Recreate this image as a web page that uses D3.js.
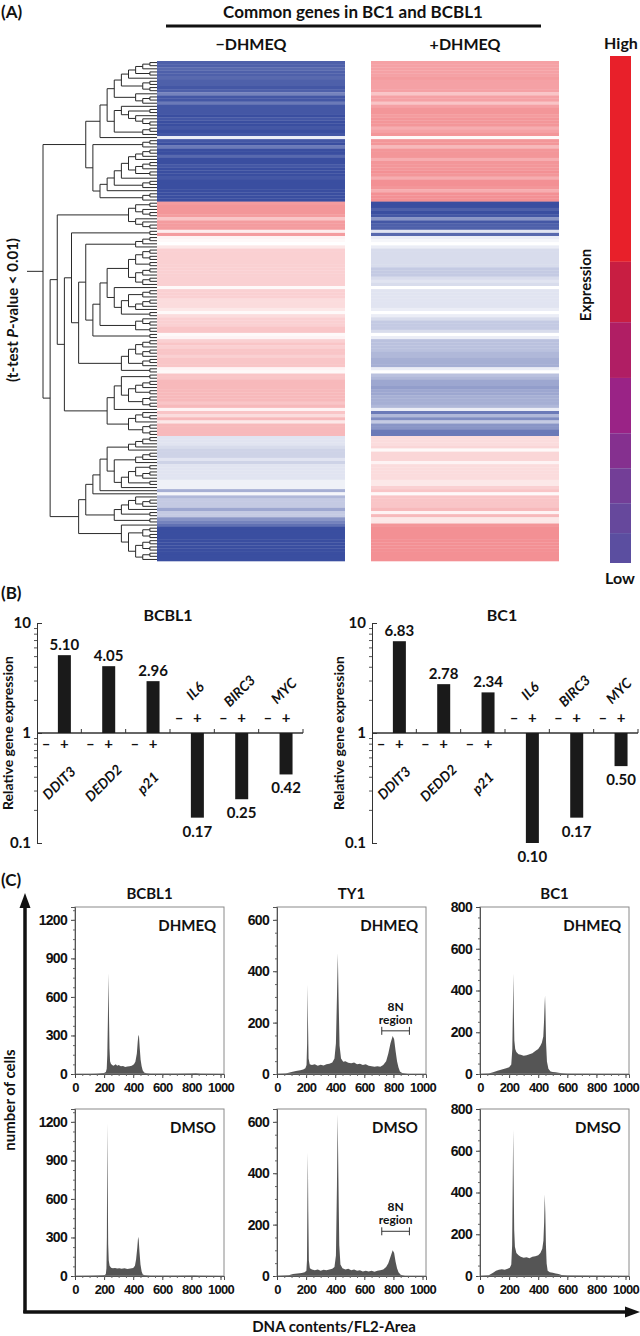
<!DOCTYPE html>
<html><head><meta charset="utf-8">
<script src="https://cdn.jsdelivr.net/npm/d3@7"></script>
<style>
body{margin:0;background:#fff}
svg{display:block}
text{font-family:Lato,"Open Sans",sans-serif;font-weight:bold;fill:#111}
.num text{font-family:"Liberation Sans Narrow","Liberation Sans",Arial,sans-serif;font-weight:bold;letter-spacing:-0.7px}
</style></head><body>
<svg id="fig" width="640" height="1336"></svg>
<script>
// ---------------- DATA ----------------
const heatmapColumns = ["−DHMEQ", "+DHMEQ"];
const minusDHMEQ = [
-9,-9,-8.5,-9,-9,-8.5,-9,-9,-9.5,-9,
-7,-9.5,-9.5,-7.5,-9.5,-9.5,-9.5,-10,-9.5,-10,
-10,-9.5,-10,-9.5,-1,-9.5,-10,-7.5,-10,-10,
-8.5,-10,-10,-9.5,-10,-10,-10,-9.5,-10,-10,
-10,-10,-10,-10,-10,
8.5,9,9,9,8.5,5,8.5,8.5,8.5,1.5,8.5,
1,0.5,0,2,4,4,4,4,4,4,4,4,4,4,4,4,0.5,4,4,4,
3,3,3,2,0.5,3,4,4,4,5,5,0.5,1,4,5,4,5,5,4,5,5,5,1,0.5,5,5,6,6,6,6,6,6,6,5,6,1,5,3,6,2,6,6,6,6,
-1.5,-1.5,-1.5,-2,-2.5,-2.5,-2.5,-1.5,-2.5,-1.5,-1.5,-1.5,-1.5,-1.5,-0.8,-0.8,-0.8,-4.5,-0.5,-4,-3,-3,-3,-5,-3,-3,-6,-7,
-8,-10,-10,-10,-10,-10,-10,-10,-10,-10,-10,-10
];
const plusDHMEQ = [
8,8,8,8,8,8.5,8,8,8,8,
5,8,8,5,8,9,9,8.5,9,9,
9,7,8,9,0.5,9,9,6,9,9,
9,7,9,9,9,9.5,9,7,9.5,9.5,
9,7,9.5,9.5,9.5,
-10,-10,-9,-10,-9.5,-6,-9.5,-9,-9,-1.5,-8.5,
-1,-0.5,0,-1,-2,-2,-2,-2,-2,-2,-3,-3,-3,-2,-1.5,-2,0,-1.5,-1.5,-1.5,
-1.5,-1.5,-1.5,-1,0,-1,-2,-3,-3,-3,-2,0,-1,-3.5,-3.5,-3.5,-3.5,-4,-4,-4.5,-4.5,-4.5,-1,0,-3.5,-4,-5,-5,-5.5,-5,-5,-4.5,-4.5,-4.5,-4,-1,-7.5,-4,-6.5,-3,-6,-6,-7.5,-7.5,
3,3,3,3.5,0.5,3.5,3.5,3.5,1,3,3,3,3,3,2,2,4,5,0.5,5,5,5,5,6,1,6,2,2,
9,9.5,9.5,9.5,9.5,9.5,9.5,9.5,9.5,9.5,9.5,9.5
];
const legendColors = ["#e8202a","#c81e42","#b01e64","#9a2386","#85308f","#733e97","#66489c","#5b4ea0"];
const legendBreaks = [1, 0.594, 0.475, 0.365, 0.256, 0.187, 0.118, 0.059, 0];

const genes = ["DDIT3","DEDD2","p21","IL6","BIRC3","MYC"];
const bcbl1Expr = [5.10, 4.05, 2.96, 0.17, 0.25, 0.42];
const bc1Expr = [6.83, 2.78, 2.34, 0.10, 0.17, 0.50];
const exprTicks = [0.1, 1, 10];

const fcmCells = ["BCBL1","TY1","BC1"];
const fcmTreatments = ["DHMEQ","DMSO"];
const fcmYMax = [1300, 650, 800];
const fcmYTicks = [[0,300,600,900,1200],[0,200,400,600],[0,200,400,600,800]];
const fcmXTicks = [0,200,400,600,800,1000];
const eightNRegion = [720, 910];

const bcbl1DHMEQ = [[0,0],[100,0],[150,2],[180,5],[200,8],[212,15],[218,40],[222,150],[226,420],[230,785],[233,500],[237,200],[241,100],[247,80],[255,70],[265,65],[280,75],[290,65],[300,70],[315,60],[330,62],[345,55],[360,58],[375,60],[390,65],[405,75],[415,95],[425,160],[431,250],[436,305],[440,290],[445,200],[451,110],[458,60],[465,30],[475,12],[490,5],[520,2],[600,2],[700,1],[800,3],[830,5],[860,2],[1000,0]];
const bcbl1DMSO = [[0,0],[100,2],[150,3],[190,5],[205,8],[212,15],[216,60],[219,300],[222,1190],[225,700],[228,250],[232,120],[238,80],[248,65],[260,60],[275,62],[290,58],[305,60],[320,57],[340,60],[360,55],[380,58],[400,62],[412,80],[420,130],[428,220],[434,305],[438,280],[443,190],[450,90],[458,35],[466,12],[480,5],[520,2],[700,1],[820,4],[850,2],[1000,0]];
const ty1DHMEQ = [[0,0],[60,2],[100,8],[130,12],[160,15],[180,18],[195,22],[203,35],[207,120],[210,347],[213,200],[217,60],[225,38],[240,35],[260,38],[280,32],[300,36],[320,33],[340,38],[360,40],[380,45],[395,60],[405,120],[412,300],[418,470],[423,300],[430,110],[440,60],[455,48],[470,50],[490,44],[510,42],[530,45],[550,38],[570,40],[590,35],[610,38],[630,32],[650,30],[670,28],[690,30],[710,28],[730,35],[750,50],[765,80],[780,120],[795,148],[805,135],[815,90],[825,50],[835,25],[845,10],[860,4],[900,0],[1000,0]];
const ty1DMSO = [[0,0],[80,3],[110,8],[140,10],[170,12],[190,15],[202,20],[206,60],[209,300],[212,480],[215,250],[219,60],[226,30],[240,25],[260,22],[280,25],[300,20],[320,24],[340,22],[360,25],[380,28],[395,35],[405,80],[412,350],[417,630],[422,380],[428,120],[436,45],[450,30],[470,25],[490,28],[510,22],[530,25],[550,20],[570,22],[590,18],[610,20],[630,18],[650,20],[670,17],[690,20],[710,22],[730,25],[750,35],[765,50],[780,75],[795,100],[805,90],[815,55],[825,30],[835,15],[850,5],[880,0],[1000,0]];
const bc1DHMEQ = [[0,0],[60,2],[90,8],[120,15],[150,22],[180,28],[200,32],[215,45],[222,120],[226,300],[229,480],[232,320],[236,160],[242,120],[250,105],[265,95],[280,92],[300,88],[320,90],[340,95],[360,100],[380,110],[400,120],[415,135],[425,150],[435,180],[440,250],[444,330],[447,375],[450,300],[454,150],[460,60],[470,25],[485,12],[500,10],[520,8],[540,6],[560,3],[600,1],[1000,0]];
const bc1DMSO = [[0,0],[60,3],[90,15],[110,25],[130,30],[150,32],[170,30],[190,35],[205,40],[215,55],[221,150],[225,450],[228,700],[231,480],[235,220],[240,140],[250,110],[265,100],[280,92],[300,88],[320,90],[340,85],[360,92],[380,95],[400,100],[415,110],[428,130],[436,170],[441,260],[445,390],[449,300],[453,150],[458,60],[465,25],[480,18],[500,15],[520,12],[540,10],[560,5],[600,2],[1000,0]];

// ---------------- DRAW ----------------
const svg = d3.select("#fig");

// ===== Panel A =====
svg.append("text").attr("x",1).attr("y",18).style("font-size","17px").text("(A)");
svg.append("text").attr("x",353).attr("y",18).attr("text-anchor","middle").style("font-size","17px").text("Common genes in BC1 and BCBL1");
svg.append("line").attr("x1",166).attr("x2",541).attr("y1",26).attr("y2",26).attr("stroke","#111").attr("stroke-width",3);

const nRows = minusDHMEQ.length;
const rowY = d3.scaleBand().domain(d3.range(nRows)).range([61,561]);
const colX = d3.scaleBand().domain(heatmapColumns).range([157,559]).paddingInner(0.1215);
const heatColor = d3.scaleLinear().domain([-10,0,10]).range(["#3a4ea0","#ffffff","#f28a8e"]);
const colData = [minusDHMEQ, plusDHMEQ];
heatmapColumns.forEach((c,ci)=>{
  svg.append("g").selectAll("rect").data(colData[ci]).join("rect")
    .attr("x",colX(c)).attr("width",colX.bandwidth())
    .attr("y",(d,i)=>rowY(i)).attr("height",rowY.bandwidth()+0.3)
    .attr("fill",d=>heatColor(d));
  svg.append("text").attr("x",colX(c)+colX.bandwidth()/2).attr("y",50)
    .attr("text-anchor","middle").style("font-size","16px").text(c);
});

// dendrogram: constrained (adjacent) Ward clustering of rows
let clusters = minusDHMEQ.map((m,i)=>({n:1,c:[m,plusDHMEQ[i]],node:{name:i}}));
while(clusters.length>1){
  let best=0,bestD=Infinity;
  for(let i=0;i<clusters.length-1;i++){
    const a=clusters[i],b=clusters[i+1];
    const dx=a.c[0]-b.c[0],dy=a.c[1]-b.c[1];
    const d=(a.n*b.n/(a.n+b.n))*(dx*dx+dy*dy)+0.05*(a.n+b.n);
    if(d<bestD){bestD=d;best=i;}
  }
  const a=clusters[best],b=clusters[best+1],n=a.n+b.n;
  clusters.splice(best,2,{n,c:[(a.c[0]*a.n+b.c[0]*b.n)/n,(a.c[1]*a.n+b.c[1]*b.n)/n],node:{children:[a.node,b.node]}});
}
const root = d3.hierarchy(clusters[0].node);
d3.cluster().size([1,1]).separation(()=>1)(root);
const dY = d3.scaleLinear().domain([0,1]).range([61,561]);
const dX = d3.scaleLinear().domain([0,1]).range([43,157]);
const dg = svg.append("g").attr("fill","none").attr("stroke","#2a2a2a").attr("stroke-width",1);
root.descendants().forEach(nd=>{
  if(nd.children){
    const ys = nd.children.map(c=>dY(c.x));
    dg.append("line").attr("x1",dX(nd.y)).attr("x2",dX(nd.y)).attr("y1",d3.min(ys)).attr("y2",d3.max(ys));
    nd.children.forEach(c=>{
      dg.append("line").attr("x1",dX(nd.y)).attr("x2",dX(c.y)).attr("y1",dY(c.x)).attr("y2",dY(c.x));
    });
  }
});
dg.append("line").attr("x1",27).attr("x2",dX(root.y)).attr("y1",dY(root.x)).attr("y2",dY(root.x));

const yl = svg.append("text").attr("transform","translate(18,310) rotate(-90)").attr("text-anchor","middle").style("font-size","15px");
yl.append("tspan").text("(t-test ");
yl.append("tspan").style("font-style","italic").text("P");
yl.append("tspan").text("-value < 0.01)");

// colour legend
const legY = d3.scaleLinear().domain([0,1]).range([563,56]);
svg.append("g").selectAll("rect").data(legendColors).join("rect")
  .attr("x",610).attr("width",21)
  .attr("y",(d,i)=>legY(legendBreaks[i]))
  .attr("height",(d,i)=>legY(legendBreaks[i+1])-legY(legendBreaks[i]))
  .attr("fill",d=>d);
svg.append("text").attr("x",621).attr("y",49).attr("text-anchor","middle").style("font-size","16px").text("High");
svg.append("text").attr("x",620).attr("y",584).attr("text-anchor","middle").style("font-size","16px").text("Low");
svg.append("text").attr("transform","translate(591,285) rotate(-90)").attr("text-anchor","middle").style("font-size","15px").text("Expression");

// ===== Panel B =====
svg.append("text").attr("x",1).attr("y",599).style("font-size","17px").text("(B)");
function barChart(axisX, title, titleX, vals, ylabX){
  const g = svg.append("g");
  const x0 = d3.scaleBand().domain(genes).range([axisX, axisX+266]);
  const x1 = d3.scaleBand().domain(["–","+"]).range([0,36.5]);
  const y = d3.scaleLog().domain([0.1,10]).range([843,623]);
  const bw = 13;
  g.append("text").attr("x",titleX).attr("y",621).attr("text-anchor","middle").style("font-size","16px").text(title);
  const ax = g.append("g").attr("transform",`translate(${axisX},0)`);
  ax.call(d3.axisLeft(y).tickValues(exprTicks).tickFormat(d=>d<1?"0.1":String(d)).tickSize(-5).tickPadding(6));
  ax.selectAll("text").style("font-size","15px").attr("fill","#111");
  ax.selectAll("path,line").attr("stroke","#333");
  const minor = [0.2,0.3,0.4,0.5,0.6,0.7,0.8,0.9,2,3,4,5,6,7,8,9];
  const ax2 = g.append("g").attr("transform",`translate(${axisX},0)`);
  ax2.call(d3.axisLeft(y).tickValues(minor).tickFormat("").tickSize(3));
  ax2.select(".domain").remove();
  ax2.selectAll("line").attr("stroke","#555");
  g.append("line").attr("x1",axisX).attr("x2",axisX+266).attr("y1",y(1)).attr("y2",y(1)).attr("stroke","#333").attr("stroke-width",1.5);
  g.selectAll(".bt").data(genes).join("line")
    .attr("x1",d=>x0(d)+x0.bandwidth()).attr("x2",d=>x0(d)+x0.bandwidth())
    .attr("y1",y(1)).attr("y2",y(1)-4).attr("stroke","#333");
  g.selectAll(".bar").data(vals).join("rect")
    .attr("x",(d,i)=>x0(genes[i])+x1("+")+x1.bandwidth()/2-bw/2).attr("width",bw)
    .attr("y",d=>Math.min(y(d),y(1))).attr("height",d=>Math.abs(y(d)-y(1)))
    .attr("fill","#1a1a1a");
  g.selectAll(".vl").data(vals).join("text")
    .attr("x",(d,i)=>x0(genes[i])+x1("+")+x1.bandwidth()/2)
    .attr("y",d=>d>1?y(d)-5:y(d)+19)
    .attr("text-anchor","middle").style("font-size","15px").text(d=>d.toFixed(2));
  genes.forEach((gn,i)=>{
    const up = vals[i]>1;
    const sy = up ? y(1)+16 : y(1)-10;
    ["–","+"].forEach(s=>{
      g.append("text").attr("x",x0(gn)+x1(s)+x1.bandwidth()/2).attr("y",sy)
        .attr("text-anchor","middle").style("font-size","15px").text(s);
    });
    const cx = x0(gn)+x0.bandwidth()/2 + (up?0:3);
    const cy = up ? 783 : 691;
    g.append("text").attr("transform",`translate(${cx},${cy}) rotate(-45)`)
      .attr("text-anchor","middle").attr("dy","0.35em").style("font-size","14px").style("font-style","italic").text(gn);
  });
  g.append("text").attr("transform",`translate(${ylabX},733) rotate(-90)`).attr("text-anchor","middle").style("font-size","14px").text("Relative gene expression");
}
barChart(37, "BCBL1", 168, bcbl1Expr, 13);
barChart(372, "BC1", 502, bc1Expr, 344);

// ===== Panel C =====
svg.append("text").attr("x",1).attr("y",886).style("font-size","17px").text("(C)");
const histData = [[bcbl1DHMEQ, bcbl1DMSO],[ty1DHMEQ, ty1DMSO],[bc1DHMEQ, bc1DMSO]];
const frameX = [75,277,480], frameY = [907,1109], fW = 149, fH = 167;
const intFmt = d3.format("d");
fcmCells.forEach((cell,ci)=>{
  svg.append("text").attr("x",frameX[ci]+fW/2).attr("y",899).attr("text-anchor","middle").style("font-size","15px").text(cell);
  fcmTreatments.forEach((tr,ti)=>{
    const x0=frameX[ci], y0=frameY[ti];
    const x = d3.scaleLinear().domain([0,1024]).range([x0,x0+fW]);
    const y = d3.scaleLinear().domain([0,fcmYMax[ci]]).range([y0+fH,y0]);
    const g = svg.append("g");
    g.append("path").datum(histData[ci][ti])
      .attr("d",d3.area().x(d=>x(d[0])).y0(y(0)).y1(d=>y(d[1])))
      .attr("fill","#555");
    g.append("rect").attr("x",x0).attr("y",y0).attr("width",fW).attr("height",fH)
      .attr("fill","none").attr("stroke","#8a8a8a");
    const ya = g.append("g").attr("class","num").attr("transform",`translate(${x0},0)`)
      .call(d3.axisLeft(y).tickValues(fcmYTicks[ci]).tickFormat(intFmt).tickSize(4).tickPadding(4));
    ya.select(".domain").attr("stroke","#555");
    ya.selectAll("line").attr("stroke","#444");
    ya.selectAll("text").style("font-size","14px").attr("fill","#111");
    const step = fcmYTicks[ci][1]/4;
    const ym = g.append("g").attr("transform",`translate(${x0},0)`)
      .call(d3.axisLeft(y).tickValues(d3.range(0,fcmYMax[ci],step)).tickFormat("").tickSize(2));
    ym.select(".domain").remove(); ym.selectAll("line").attr("stroke","#666");
    const xa = g.append("g").attr("class","num").attr("transform",`translate(0,${y0+fH})`)
      .call(d3.axisBottom(x).tickValues(fcmXTicks).tickFormat(intFmt).tickSize(4).tickPadding(5));
    xa.select(".domain").attr("stroke","#555");
    xa.selectAll("line").attr("stroke","#444");
    xa.selectAll("text").style("font-size","13px").attr("fill","#111");
    const xm = g.append("g").attr("transform",`translate(0,${y0+fH})`)
      .call(d3.axisBottom(x).tickValues(d3.range(50,1024,50)).tickFormat("").tickSize(2));
    xm.select(".domain").remove(); xm.selectAll("line").attr("stroke","#666");
    g.append("text").attr("x",x0+fW-8).attr("y",y0+24).attr("text-anchor","end").style("font-size","15px").text(tr);
    if(cell==="TY1"){
      const by = y(ti===0?168:174);
      const bx1=x(eightNRegion[0]), bx2=x(eightNRegion[1]);
      g.append("line").attr("x1",bx1).attr("x2",bx2).attr("y1",by).attr("y2",by).attr("stroke","#333");
      [bx1,bx2].forEach(bx=>g.append("line").attr("x1",bx).attr("x2",bx).attr("y1",by-4).attr("y2",by+4).attr("stroke","#333"));
      const tx=(bx1+bx2)/2;
      g.append("text").attr("x",tx).attr("y",by-20).attr("text-anchor","middle").style("font-size","12px").text("8N");
      g.append("text").attr("x",tx).attr("y",by-7).attr("text-anchor","middle").style("font-size","12px").text("region");
    }
  });
});
svg.append("line").attr("x1",25).attr("x2",25).attr("y1",1313).attr("y2",905).attr("stroke","#111").attr("stroke-width",3.5);
svg.append("path").attr("d","M25,893 L19.5,908 L30.5,908 Z").attr("fill","#111");
svg.append("line").attr("x1",23.3).attr("x2",626).attr("y1",1312).attr("y2",1312).attr("stroke","#111").attr("stroke-width",3.5);
svg.append("path").attr("d","M640,1312 L625,1306.5 L625,1317.5 Z").attr("fill","#111");
svg.append("text").attr("transform","translate(15,1100) rotate(-90)").attr("text-anchor","middle").style("font-size","15px").text("number of cells");
svg.append("text").attr("x",334).attr("y",1332).attr("text-anchor","middle").style("font-size","15px").text("DNA contents/FL2-Area");
</script></body></html>
